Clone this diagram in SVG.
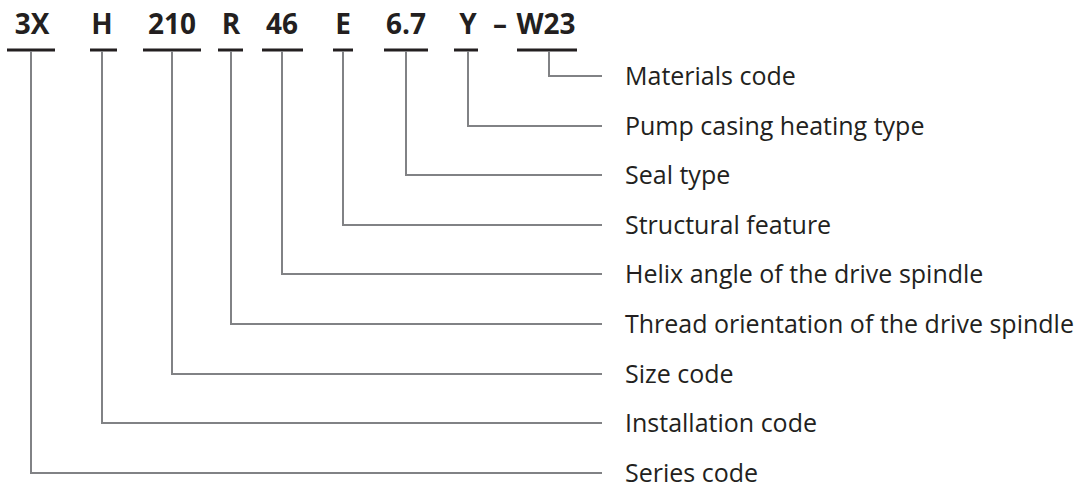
<svg xmlns="http://www.w3.org/2000/svg" width="1082" height="491" viewBox="0 0 1082 491">
<style>
.code{font-family:"Open Sans","Liberation Sans",sans-serif;font-weight:bold;font-size:28px;fill:#231f20;text-anchor:middle}
.lbl{font-family:"Open Sans","Liberation Sans",sans-serif;font-size:25px;fill:#231f20}
.bar{stroke:#231f20;stroke-width:3;fill:none}
.conn{stroke:#818285;stroke-width:2;fill:none}
</style>
<rect width="1082" height="491" fill="#ffffff"/>
<g id="code-3X"><text class="code" x="32" y="34">3X</text><line class="bar" x1="7" y1="50" x2="55" y2="50"/></g>
<g id="code-H"><text class="code" x="102" y="34">H</text><line class="bar" x1="90" y1="50" x2="117" y2="50"/></g>
<g id="code-210"><text class="code" x="172" y="34">210</text><line class="bar" x1="143" y1="50" x2="201" y2="50"/></g>
<g id="code-R"><text class="code" x="231" y="34">R</text><line class="bar" x1="218" y1="50" x2="243" y2="50"/></g>
<g id="code-46"><text class="code" x="282" y="34">46</text><line class="bar" x1="262" y1="50" x2="303" y2="50"/></g>
<g id="code-E"><text class="code" x="343" y="34">E</text><line class="bar" x1="333" y1="50" x2="353" y2="50"/></g>
<g id="code-6.7"><text class="code" x="406" y="34">6.7</text><line class="bar" x1="384" y1="50" x2="428" y2="50"/></g>
<g id="code-Y"><text class="code" x="468" y="34">Y</text><line class="bar" x1="454" y1="50" x2="478" y2="50"/></g>
<g id="code-W23"><text class="code" x="500" y="34">–</text><text class="code" x="546" y="34">W23</text><line class="bar" x1="517" y1="50" x2="577" y2="50"/></g>
<g id="connectors">
<polyline class="conn" points="549,51 549,76 602,76"/>
<polyline class="conn" points="468,51 468,126 602,126"/>
<polyline class="conn" points="406,51 406,175 602,175"/>
<polyline class="conn" points="343,51 343,225 602,225"/>
<polyline class="conn" points="282,51 282,274 602,274"/>
<polyline class="conn" points="231,51 231,324 602,324"/>
<polyline class="conn" points="172,51 172,374 602,374"/>
<polyline class="conn" points="102,51 102,423 602,423"/>
<polyline class="conn" points="31,51 31,473 602,473"/>
</g>
<g id="labels">
<text class="lbl" x="625" y="85">Materials code</text>
<text class="lbl" x="625" y="135">Pump casing heating type</text>
<text class="lbl" x="625" y="184">Seal type</text>
<text class="lbl" x="625" y="234">Structural feature</text>
<text class="lbl" x="625" y="283">Helix angle of the drive spindle</text>
<text class="lbl" x="625" y="333">Thread orientation of the drive spindle</text>
<text class="lbl" x="625" y="383">Size code</text>
<text class="lbl" x="625" y="432">Installation code</text>
<text class="lbl" x="625" y="482">Series code</text>
</g>
</svg>
